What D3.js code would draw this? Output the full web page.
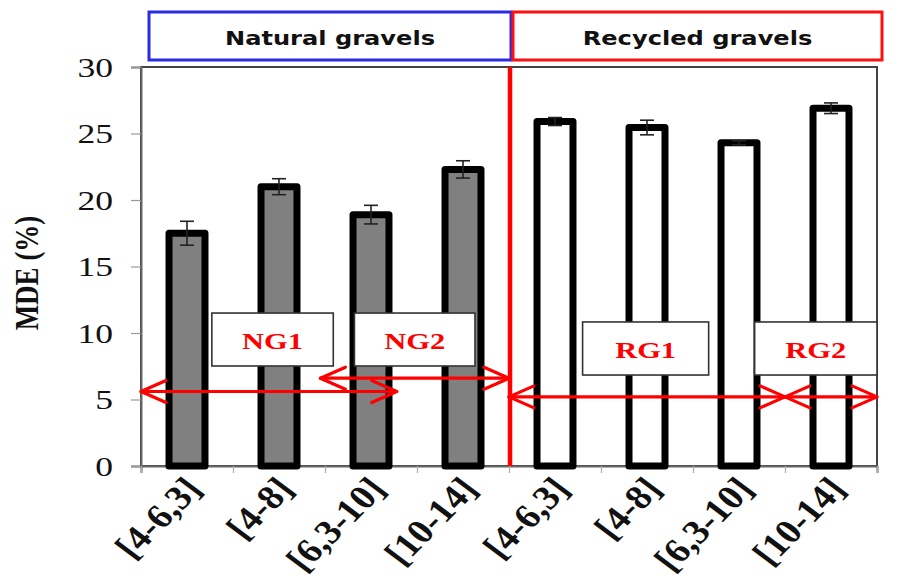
<!DOCTYPE html>
<html>
<head>
<meta charset="utf-8">
<script src="https://cdn.jsdelivr.net/npm/d3@7/dist/d3.min.js"></script>
<style>
  html, body { margin: 0; padding: 0; background: #fff; }
  svg { display: block; }
</style>
</head>
<body>
<svg id="chart" width="898" height="585"></svg>
<script>
// ---- data ----
const groupNames = ["Natural gravels", "Recycled gravels"];
const sizeClasses = ["[4-6,3]", "[4-8]", "[6,3-10]", "[10-14]"];
const mdeNatural = [17.5, 21.0, 18.9, 22.3];
const errNatural = [0.9, 0.6, 0.7, 0.65];
const mdeRecycled = [25.9, 25.45, 24.3, 26.9];
const errRecycled = [0.3, 0.55, 0.15, 0.4];
const yTicks = [0, 5, 10, 15, 20, 25, 30];

// grading bands: label, start/end (category index units), arrow level, box extent
const bandLabels = ["NG1", "NG2", "RG1", "RG2"];
const bandFrom = [0, 1.95, 4.0, 7.0];
const bandTo = [2.78, 4.0, 7.0, 8.0];
const bandArrowY = [5.6, 6.6, 5.2, 5.2];
const boxFrom = [0.77, 2.32, 4.8, 6.67];
const boxTo = [2.09, 3.63, 6.17, 8.0];
const boxTop = [11.5, 11.5, 10.83, 10.83];
const boxBottom = [7.52, 7.52, 6.84, 6.84];

const rows = [];
sizeClasses.forEach((c, i) => rows.push({ key: "N" + i, label: c, group: 0, value: mdeNatural[i], err: errNatural[i] }));
sizeClasses.forEach((c, i) => rows.push({ key: "R" + i, label: c, group: 1, value: mdeRecycled[i], err: errRecycled[i] }));

// ---- layout ----
const plotLeft = 141, plotRight = 877, plotTop = 67, plotBottom = 466;
const SX = 1.27; // horizontal text stretch

const svg = d3.select("#chart");

const x = d3.scaleBand()
  .domain(rows.map(d => d.key))
  .range([plotLeft, plotRight])
  .paddingInner(0.609)
  .paddingOuter(0.3045);

const xi = d3.scaleLinear().domain([0, rows.length]).range([plotLeft, plotRight]);
const y = d3.scaleLinear().domain([0, 30]).range([plotBottom, plotTop]);

// plot frame
svg.append("rect")
  .attr("x", plotLeft).attr("y", plotTop)
  .attr("width", plotRight - plotLeft).attr("height", plotBottom - plotTop)
  .attr("fill", "none").attr("stroke", "#444").attr("stroke-width", 2);

// y axis
const yAxis = svg.append("g")
  .attr("transform", `translate(${plotLeft},0)`)
  .call(d3.axisLeft(y).tickValues(yTicks).tickSize(10).tickFormat(""));
yAxis.select(".domain").attr("stroke", "#666").attr("stroke-width", 2);
yAxis.selectAll(".tick line").attr("stroke", "#999").attr("stroke-width", 1.2);

svg.append("g").selectAll("text")
  .data(yTicks).join("text")
  .attr("transform", d => `translate(113,${y(d)}) scale(${SX},1)`)
  .attr("text-anchor", "end")
  .attr("dy", "0.35em")
  .attr("font-family", "Liberation Serif, Times New Roman, serif")
  .attr("font-size", 28)
  .attr("fill", "#111")
  .text(d => d);

// x axis ticks at category boundaries
const xAxis = svg.append("g")
  .attr("transform", `translate(0,${plotBottom})`)
  .call(d3.axisBottom(xi).tickValues(d3.range(0, rows.length + 1)).tickSize(7).tickFormat(""));
xAxis.select(".domain").attr("stroke", "#666").attr("stroke-width", 2);
xAxis.selectAll(".tick line").attr("stroke", "#aaa").attr("stroke-width", 1.2);

// y title
svg.append("text")
  .attr("transform", `translate(38,273) scale(${SX},1) rotate(-90)`)
  .attr("text-anchor", "middle")
  .attr("font-family", "Liberation Serif, Times New Roman, serif")
  .attr("font-weight", "bold")
  .attr("font-size", 27)
  .attr("fill", "#111")
  .text("MDE (%)");

// bars
svg.append("g").selectAll("rect")
  .data(rows).join("rect")
  .attr("x", d => x(d.key))
  .attr("y", d => y(d.value))
  .attr("width", x.bandwidth())
  .attr("height", d => y(0) - y(d.value))
  .attr("fill", d => d.group === 0 ? "#808080" : "#ffffff")
  .attr("stroke", "#000")
  .attr("stroke-width", 7)
  .attr("stroke-linejoin", "round");

// error bars
const eb = svg.append("g").attr("stroke", "#222").attr("stroke-width", 1.6);
rows.forEach(d => {
  const cx = x(d.key) + x.bandwidth() / 2;
  eb.append("line").attr("x1", cx).attr("x2", cx).attr("y1", y(d.value + d.err)).attr("y2", y(d.value - d.err));
  eb.append("line").attr("x1", cx - 7).attr("x2", cx + 7).attr("y1", y(d.value + d.err)).attr("y2", y(d.value + d.err));
  eb.append("line").attr("x1", cx - 7).attr("x2", cx + 7).attr("y1", y(d.value - d.err)).attr("y2", y(d.value - d.err));
});

// x labels (rotated, appear at 45 degrees after the horizontal stretch)
svg.append("g").selectAll("text")
  .data(rows).join("text")
  .attr("transform", d => `translate(${x(d.key) + x.bandwidth() / 2 + 16},${plotBottom + 24}) scale(1.15,1) rotate(-49)`)
  .attr("text-anchor", "end")
  .attr("font-family", "Liberation Serif, Times New Roman, serif")
  .attr("font-weight", "bold")
  .attr("font-size", 34)
  .attr("fill", "#111")
  .text(d => d.label);

// grading label boxes
bandLabels.forEach((lab, i) => {
  const x0 = xi(boxFrom[i]), x1 = xi(boxTo[i]);
  const y0 = y(boxTop[i]), y1 = y(boxBottom[i]);
  svg.append("rect")
    .attr("x", x0).attr("y", y0).attr("width", x1 - x0).attr("height", y1 - y0)
    .attr("fill", "#fff").attr("stroke", "#333").attr("stroke-width", 1.6);
  svg.append("text")
    .attr("transform", `translate(${(x0 + x1) / 2},${(y0 + y1) / 2 + 2}) scale(${SX},1)`)
    .attr("text-anchor", "middle")
    .attr("dominant-baseline", "central")
    .attr("font-family", "Liberation Serif, Times New Roman, serif")
    .attr("font-weight", "bold")
    .attr("font-size", 24)
    .attr("fill", "#ff0000")
    .text(lab);
});

// double-headed arrows
const ag = svg.append("g")
  .attr("stroke", "#ff0000").attr("stroke-width", 3.2)
  .attr("fill", "none").attr("stroke-linecap", "round").attr("stroke-linejoin", "round");
bandLabels.forEach((lab, i) => {
  const a = xi(bandFrom[i]), b = xi(bandTo[i]), yy = y(bandArrowY[i]);
  ag.append("line").attr("x1", a).attr("x2", b).attr("y1", yy).attr("y2", yy);
  ag.append("path").attr("d", `M${a + 25},${yy - 11} L${a},${yy} L${a + 25},${yy + 11}`);
  ag.append("path").attr("d", `M${b - 25},${yy - 11} L${b},${yy} L${b - 25},${yy + 11}`);
});

// divider between gravel types
svg.append("line")
  .attr("x1", xi(4) + 1).attr("x2", xi(4) + 1)
  .attr("y1", plotTop).attr("y2", plotBottom)
  .attr("stroke", "#ff0000").attr("stroke-width", 4.5);

// group header boxes
const headers = [
  { name: groupNames[0], x0: 149, x1: xi(4) + 2, color: "#2a2ae6" },
  { name: groupNames[1], x0: xi(4) + 4, x1: 882, color: "#ff1010" }
];
headers.forEach(h => {
  svg.append("rect")
    .attr("x", h.x0).attr("y", 12).attr("width", h.x1 - h.x0).attr("height", 48)
    .attr("fill", "#fff").attr("stroke", h.color).attr("stroke-width", 3);
  svg.append("text")
    .attr("transform", `translate(${(h.x0 + h.x1) / 2},45) scale(${SX},1)`)
    .attr("text-anchor", "middle")
    .attr("font-family", "DejaVu Sans, Verdana, sans-serif")
    .attr("font-weight", "bold")
    .attr("font-size", 19)
    .attr("fill", "#111")
    .text(h.name);
});
</script>
</body>
</html>
